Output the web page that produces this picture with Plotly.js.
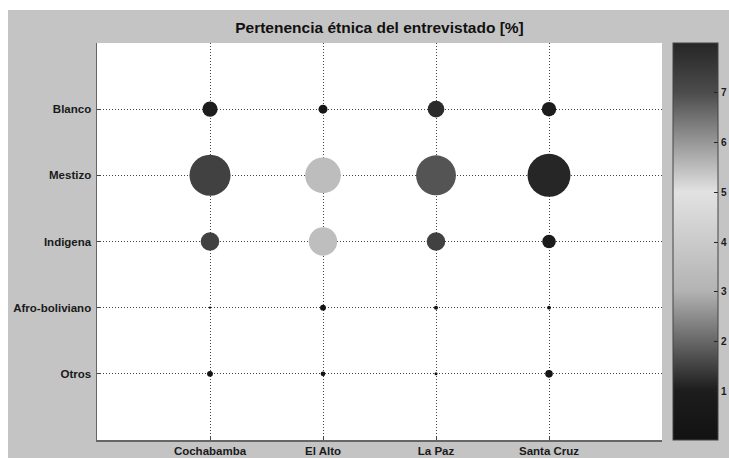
<!DOCTYPE html>
<html>
<head>
<meta charset="utf-8">
<script src="https://cdn.plot.ly/plotly-3.0.1.min.js"></script>
<style>
  html, body { margin: 0; padding: 0; background: #ffffff; }
  #chart { position: absolute; left: 8px; top: 10px; width: 721px; height: 448px; }
</style>
</head>
<body>
<div id="chart"></div>
<script>
// Cities along the x axis, ethnic groups along the y axis (bottom to top)
const cities = ['Cochabamba', 'El Alto', 'La Paz', 'Santa Cruz'];
const groups = ['Otros', 'Afro-boliviano', 'Indigena', 'Mestizo', 'Blanco'];

// Share of respondents per group (same order as `groups`), in tens of percent
const cochabamba = [0.15, 0.02, 1.5, 7.3, 1.0];
const elAlto     = [0.10, 0.15, 3.5, 5.5, 0.35];
const laPaz      = [0.04, 0.07, 1.5, 6.9, 1.2];
const santaCruz  = [0.25, 0.06, 0.8, 8.0, 0.9];

const colorbarTicks = [1, 2, 3, 4, 5, 6, 7];

const byCity = [cochabamba, elAlto, laPaz, santaCruz];
const xs = [], ys = [], vs = [];
byCity.forEach((vals, ci) => {
  vals.forEach((v, gi) => {
    xs.push(cities[ci]);
    ys.push(groups[gi]);
    vs.push(v);
  });
});

// Jet colour map rendered in grey levels
const greyJet = [
  [0.000, 'rgb(18,18,18)'],
  [0.125, 'rgb(29,29,29)'],
  [0.375, 'rgb(179,179,179)'],
  [0.625, 'rgb(226,226,226)'],
  [0.875, 'rgb(76,76,76)'],
  [1.000, 'rgb(38,38,38)']
];

const tickFont = { family: 'Liberation Sans, Arial, sans-serif', size: 11.5, color: '#1a1a1a', weight: 'bold' };

const trace = {
  type: 'scatter',
  mode: 'markers',
  x: xs,
  y: ys,
  hoverinfo: 'skip',
  marker: {
    size: vs,
    sizemode: 'area',
    sizeref: 0.00866,
    color: vs,
    colorscale: greyJet,
    showscale: true,
    line: { width: 0 },
    opacity: 1,
    colorbar: {
      x: 1.0195,
      xanchor: 'left',
      xref: 'paper',
      y: 0.5,
      yanchor: 'middle',
      len: 1,
      lenmode: 'fraction',
      thickness: 45,
      thicknessmode: 'pixels',
      xpad: 0,
      ypad: 0,
      outlinewidth: 1,
      outlinecolor: '#444',
      tickmode: 'array',
      tickvals: colorbarTicks,
      ticktext: colorbarTicks.map(String),
      ticks: 'inside',
      ticklen: 4,
      tickcolor: '#222',
      tickfont: { family: 'Liberation Sans, Arial, sans-serif', size: 10, color: '#1a1a1a', weight: 'bold' }
    }
  }
};

const layout = {
  width: 721,
  height: 448,
  margin: { l: 89, r: 67, t: 33, b: 18, pad: 0, autoexpand: false },
  paper_bgcolor: '#c4c4c4',
  plot_bgcolor: '#ffffff',
  showlegend: false,
  title: {
    text: '<b>Pertenencia étnica del entrevistado [%]</b>',
    font: { family: 'Liberation Sans, Arial, sans-serif', size: 15.5, color: '#111' },
    x: 0.5,
    xref: 'paper',
    xanchor: 'center',
    y: 1 - 18 / 448,
    yref: 'container',
    yanchor: 'middle'
  },
  xaxis: {
    type: 'category',
    categoryorder: 'array',
    categoryarray: cities,
    range: [-1, 4],
    showgrid: true,
    gridcolor: '#444',
    gridwidth: 1,
    griddash: '1px,2px',
    zeroline: false,
    showline: true,
    linecolor: '#666',
    linewidth: 1.5,
    ticks: 'inside',
    ticklen: 4,
    tickcolor: '#444',
    tickfont: tickFont,
    fixedrange: true
  },
  yaxis: {
    type: 'category',
    categoryorder: 'array',
    categoryarray: groups,
    range: [-1, 5],
    showgrid: true,
    gridcolor: '#444',
    gridwidth: 1,
    griddash: '1px,2px',
    zeroline: false,
    showline: true,
    linecolor: '#666',
    linewidth: 1.5,
    ticks: 'inside',
    ticklen: 4,
    tickcolor: '#444',
    tickfont: tickFont,
    ticklabelstandoff: 2,
    fixedrange: true
  }
};

Plotly.newPlot('chart', [trace], layout, { displayModeBar: false, staticPlot: true });
</script>
</body>
</html>
